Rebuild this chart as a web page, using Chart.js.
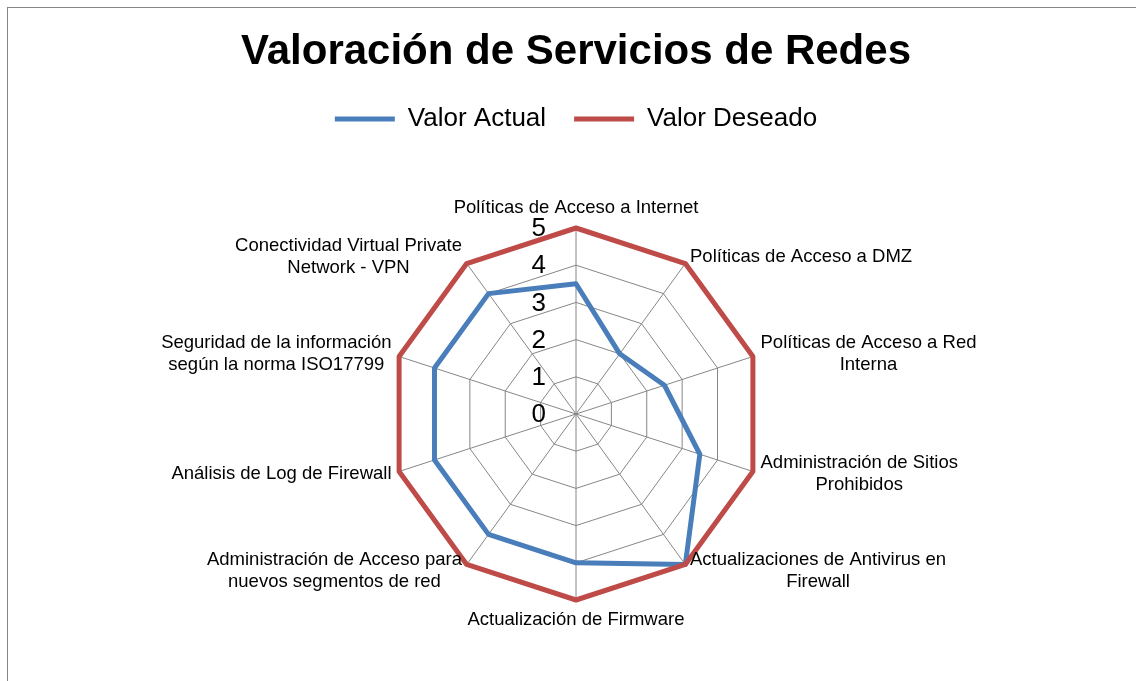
<!DOCTYPE html>
<html>
<head>
<meta charset="utf-8">
<script src="https://cdn.jsdelivr.net/npm/chart.js@4.4.1/dist/chart.umd.min.js"></script>
<style>
  html, body { margin: 0; padding: 0; background: #ffffff; overflow: hidden; }
  #frame { position: absolute; left: 7px; top: 7px; width: 1200px; height: 760px; border: 1px solid #868686; box-sizing: border-box; }
  #wrap { position: absolute; left: 0; top: 0; width: 1136px; height: 681px; }
</style>
</head>
<body>
<div id="frame"></div>
<div id="wrap"><canvas id="c" width="1136" height="681"></canvas></div>
<script>
// ---- data ----
const chartTitle = 'Valoración de Servicios de Redes';
const categories = [
  ['Políticas de Acceso a Internet'],
  ['Políticas de Acceso a DMZ'],
  ['Políticas de Acceso a Red', 'Interna'],
  ['Administración de Sitios', 'Prohibidos'],
  ['Actualizaciones de Antivirus en', 'Firewall'],
  ['Actualización de Firmware'],
  ['Administración de Acceso para', 'nuevos segmentos de red'],
  ['Análisis de Log de Firewall'],
  ['Seguridad de la información', 'según la norma ISO17799'],
  ['Conectividad Virtual Private', 'Network - VPN']
];
const seriesNames = ['Valor Actual', 'Valor Deseado'];
const valorActual = [3.5, 2, 2.5, 3.5, 5, 4, 4, 4, 4, 4];
const valorDeseado = [5, 5, 5, 5, 5, 5, 5, 5, 5, 5];
const tickValues = [0, 1, 2, 3, 4, 5];
const tickLabels = ['0', '1', '2', '3', '4', '5'];

const FONT = '"Liberation Sans", Arial, Helvetica, sans-serif';
Chart.defaults.font.family = FONT;
Chart.defaults.color = '#000000';

// draws the category labels around the radar, positioned by the scale
const pointLabelPlugin = {
  id: 'pointLabelPlugin',
  afterDraw(chart) {
    const scale = chart.scales.r;
    const ctx = chart.ctx;
    ctx.save();
    ctx.font = '18.5px ' + FONT;
    ctx.fillStyle = '#000000';
    ctx.textBaseline = 'middle';
    ctx.textAlign = 'center';
    const lh = 22;
    categories.forEach((lines, i) => {
      const deg = Math.round(scale.getIndexAngle(i) * 180 / Math.PI) % 360;
      const vertical = (deg === 0 || deg === 180);
      const pad = vertical ? 9 : 8;
      const p = scale.getPointPosition(i, scale.drawingArea + pad);
      const w = Math.max(...lines.map(l => ctx.measureText(l).width));
      let left;
      if (vertical) left = p.x - w / 2;
      else if (deg < 180) left = p.x;
      else left = p.x - w;
      const h = lines.length * lh;
      let top;
      if (deg === 0) top = p.y - h;
      else if (deg === 180) top = p.y;
      else top = p.y - h / 2;
      lines.forEach((l, k) => {
        ctx.fillText(l, left + w / 2, top + lh / 2 + k * lh);
      });
    });
    ctx.restore();
  }
};

// draws the value labels along the vertical axis, positioned by the scale
const tickLabelPlugin = {
  id: 'tickLabelPlugin',
  afterDraw(chart) {
    const scale = chart.scales.r;
    const ctx = chart.ctx;
    ctx.save();
    ctx.font = '26px ' + FONT;
    ctx.fillStyle = '#000000';
    ctx.textAlign = 'right';
    ctx.textBaseline = 'middle';
    tickValues.forEach((v, k) => {
      const d = scale.getDistanceFromCenterForValue(v);
      ctx.fillText(tickLabels[k], scale.xCenter - 30, scale.yCenter - d + 1);
    });
    ctx.restore();
  }
};

new Chart(document.getElementById('c'), {
  type: 'radar',
  data: {
    labels: categories,
    datasets: [
      {
        label: seriesNames[0],
        data: valorActual,
        borderColor: '#4A7EBB',
        backgroundColor: '#4A7EBB',
        borderWidth: 5,
        borderJoinStyle: 'round',
        fill: false,
        pointRadius: 0,
        pointHoverRadius: 0,
        tension: 0,
        order: 1
      },
      {
        label: seriesNames[1],
        data: valorDeseado,
        borderColor: '#BE4B48',
        backgroundColor: '#BE4B48',
        borderWidth: 5,
        borderJoinStyle: 'round',
        fill: false,
        pointRadius: 0,
        pointHoverRadius: 0,
        tension: 0,
        order: 0
      }
    ]
  },
  options: {
    responsive: false,
    animation: false,
    events: [],
    layout: { padding: { left: 16, right: 0, top: 0, bottom: 81 } },
    scales: {
      r: {
        min: 0,
        max: 5,
        ticks: { stepSize: 1, display: false },
        grid: { color: '#868686', lineWidth: 1 },
        angleLines: { color: '#868686', lineWidth: 1 },
        pointLabels: { display: false }
      }
    },
    plugins: {
      title: {
        display: true,
        text: chartTitle,
        color: '#000000',
        font: { size: 42, weight: 'bold', family: FONT, lineHeight: 1.2 },
        padding: { top: 27, bottom: 0.6 }
      },
      legend: {
        display: true,
        position: 'top',
        weight: 1000,
        labels: {
          usePointStyle: true,
          pointStyle: 'line',
          pointStyleWidth: 60,
          boxHeight: 26,
          padding: 28,
          color: '#000000',
          font: { size: 26, family: FONT },
          sort: (a, b) => a.datasetIndex - b.datasetIndex
        }
      },
      subtitle: {
        display: true,
        text: '',
        weight: 500,
        font: { size: 1, lineHeight: 1 },
        padding: { top: 0, bottom: 85 }
      },
      tooltip: { enabled: false }
    }
  },
  plugins: [pointLabelPlugin, tickLabelPlugin]
});
</script>
</body>
</html>
